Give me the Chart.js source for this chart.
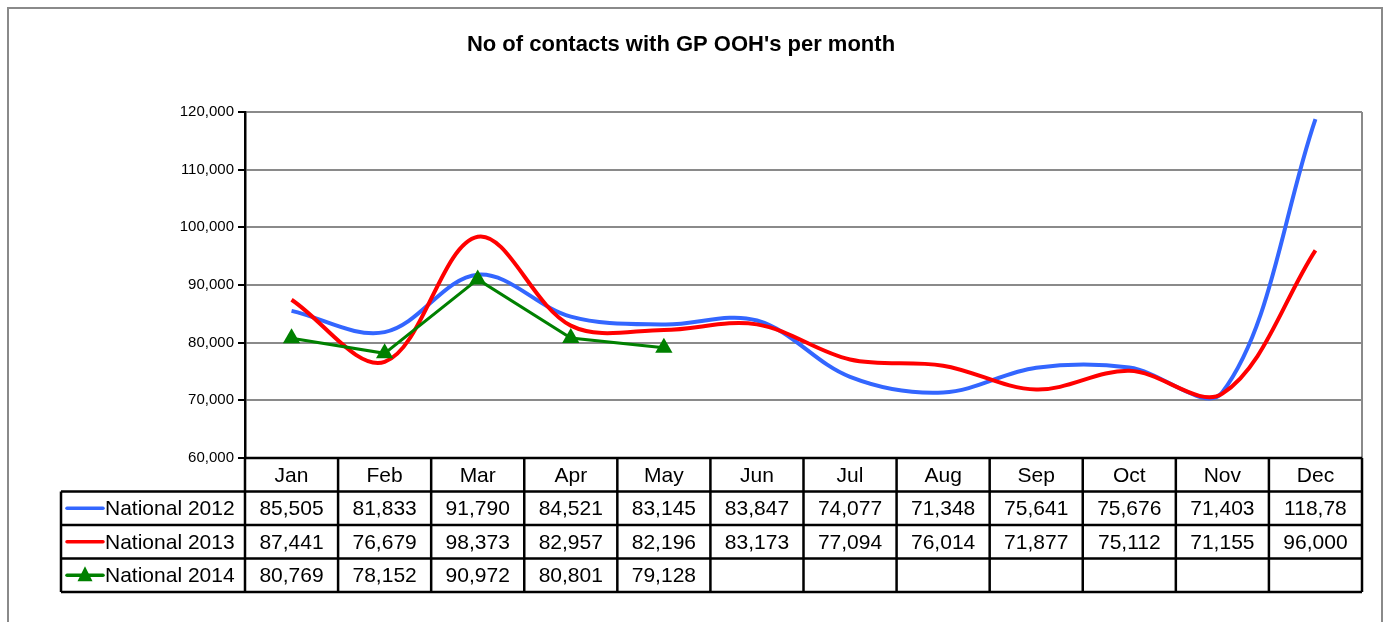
<!DOCTYPE html>
<html lang="en">
<head>
    <meta charset="UTF-8">
    <title>No of contacts with GP OOH's per month</title>
    <script src="https://cdn.jsdelivr.net/npm/chart.js"></script>
    <style>
        body { margin: 0; background: #fff; }
        canvas { display: block; }
    </style>
</head>
<body>
    <canvas id="grafica" width="1389" height="622"></canvas>

    <script>
        const months = ['Jan', 'Feb', 'Mar', 'Apr', 'May', 'Jun', 'Jul', 'Aug', 'Sep', 'Oct', 'Nov', 'Dec'];
        const national2012 = [85505, 81833, 91790, 84521, 83145, 83847, 74077, 71348, 75641, 75676, 71403, 118780];
        const national2013 = [87441, 76679, 98373, 82957, 82196, 83173, 77094, 76014, 71877, 75112, 71155, 96000];
        const national2014 = [80769, 78152, 90972, 80801, 79128, null, null, null, null, null, null, null];
        const yTicks = [60000, 70000, 80000, 90000, 100000, 110000, 120000];

        const series = [
            { label: 'National 2012', data: national2012, color: '#3366ff', marker: false },
            { label: 'National 2013', data: national2013, color: '#ff0000', marker: false },
            { label: 'National 2014', data: national2014, color: '#008000', marker: true }
        ];

        const FONT = '"Liberation Sans", Arial, sans-serif';

        function fmt(v) {
            if (v === null) return '';
            const s = v.toLocaleString('en-US');
            // la celda de Excel corta el texto largo
            return s.length > 6 ? s.slice(0, 6) : s;
        }

        const tablePlugin = {
            id: 'dataTable',
            beforeDraw(chart) {
                const ctx = chart.ctx;
                ctx.save();
                ctx.fillStyle = '#fff';
                ctx.fillRect(0, 0, chart.width, chart.height);
                ctx.strokeStyle = '#8a8a8a';
                ctx.lineWidth = 2;
                ctx.strokeRect(8, 8, 1374, 700);
                ctx.restore();
            },
            afterDraw(chart) {
                const ctx = chart.ctx;
                const area = chart.chartArea;
                const xs = chart.scales.x;
                const n = months.length;
                const band = (area.right - area.left) / n;
                const rowH = 33.5;
                const top = area.bottom;
                const legLeft = 61;
                const bottom = top + rowH * 4;

                ctx.save();
                // borde derecho del area
                ctx.strokeStyle = '#8a8a8a';
                ctx.lineWidth = 2;
                ctx.beginPath();
                ctx.moveTo(area.right, area.top);
                ctx.lineTo(area.right, area.bottom);
                ctx.stroke();

                ctx.strokeStyle = '#000';
                ctx.lineWidth = 2.5;
                ctx.beginPath();
                // lineas horizontales
                ctx.moveTo(area.left, top);
                ctx.lineTo(area.right, top);
                for (let r = 1; r <= 4; r++) {
                    ctx.moveTo(legLeft, top + rowH * r);
                    ctx.lineTo(area.right, top + rowH * r);
                }
                // lineas verticales
                ctx.moveTo(legLeft, top + rowH);
                ctx.lineTo(legLeft, bottom);
                for (let i = 0; i <= n; i++) {
                    const x = area.left + band * i;
                    ctx.moveTo(x, top);
                    ctx.lineTo(x, bottom);
                }
                ctx.stroke();

                ctx.fillStyle = '#000';
                ctx.font = '21px ' + FONT;
                ctx.textAlign = 'center';
                ctx.textBaseline = 'middle';
                months.forEach((m, i) => {
                    ctx.fillText(m, xs.getPixelForValue(i), top + rowH / 2 + 1);
                });

                series.forEach((s, r) => {
                    const cy = top + rowH * (r + 1) + rowH / 2 + 1;
                    s.data.forEach((v, i) => {
                        ctx.fillText(fmt(v), xs.getPixelForValue(i), cy);
                    });
                });

                // leyenda
                ctx.textAlign = 'left';
                series.forEach((s, r) => {
                    const cy = top + rowH * (r + 1) + rowH / 2;
                    ctx.strokeStyle = s.color;
                    ctx.lineWidth = 3.5;
                    ctx.lineCap = 'round';
                    ctx.beginPath();
                    ctx.moveTo(67, cy);
                    ctx.lineTo(103, cy);
                    ctx.stroke();
                    if (s.marker) {
                        ctx.fillStyle = s.color;
                        ctx.beginPath();
                        ctx.moveTo(85, cy - 9);
                        ctx.lineTo(92.5, cy + 6);
                        ctx.lineTo(77.5, cy + 6);
                        ctx.closePath();
                        ctx.fill();
                    }
                    ctx.fillStyle = '#000';
                    ctx.fillText(s.label, 105, cy + 1);
                });
                ctx.restore();
            }
        };

        const ctx = document.getElementById('grafica').getContext('2d');
        new Chart(ctx, {
            type: 'line',
            data: {
                labels: months,
                datasets: series.map((s, i) => ({
                    label: s.label,
                    data: s.data,
                    borderColor: s.color,
                    backgroundColor: s.color,
                    borderWidth: s.marker ? 3 : 4,
                    tension: s.marker ? 0 : 0.35,
                    pointStyle: 'triangle',
                    pointRadius: s.marker ? 10 : 0,
                    pointBorderWidth: 0,
                    order: 2 - i,
                    spanGaps: false
                }))
            },
            options: {
                responsive: false,
                animation: false,
                layout: { padding: { left: 0, right: 27, top: 0, bottom: 164 } },
                plugins: {
                    legend: { display: false },
                    tooltip: { enabled: false },
                    title: {
                        display: true,
                        text: "No of contacts with GP OOH's per month",
                        color: '#000',
                        font: { family: FONT, size: 22, weight: 'bold' },
                        padding: { top: 32, bottom: 53.6 }
                    }
                },
                scales: {
                    x: {
                        display: false,
                        offset: true
                    },
                    y: {
                        min: yTicks[0],
                        max: yTicks[yTicks.length - 1],
                        afterFit(scale) { scale.width = 245; },
                        afterBuildTicks(scale) {
                            scale.ticks = yTicks.map(v => ({ value: v }));
                        },
                        ticks: {
                            color: '#000',
                            padding: 4,
                            font: { family: FONT, size: 15 },
                            callback: v => v.toLocaleString('en-US')
                        },
                        grid: {
                            color: '#8a8a8a',
                            lineWidth: 2,
                            drawTicks: true,
                            tickLength: 7,
                            tickColor: '#000',
                            tickWidth: 2
                        },
                        border: { color: '#000', width: 2.5 }
                    }
                }
            },
            plugins: [tablePlugin]
        });
    </script>
</body>
</html>
